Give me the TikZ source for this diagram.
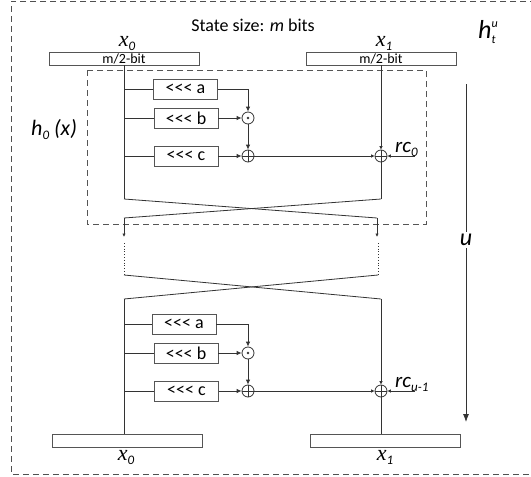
\documentclass[tikz,border=0pt]{standalone}
\usepackage{fontspec}
\setmainfont{Carlito}
\newfontfamily\xfont{Liberation Serif}
\newfontfamily\rotfont{Carlito}[Ligatures=TeXOff]
\usetikzlibrary{arrows.meta,positioning}
\definecolor{Line}{HTML}{333333}
\definecolor{Edge}{HTML}{555555}
\definecolor{Dash}{HTML}{505050}
\newcommand{\idx}[1]{\raisebox{-4pt}{\normalfont\itshape\fontsize{13}{13}\selectfont #1}}

\begin{document}
\begin{tikzpicture}[x=1pt,y=-1pt,
  wire/.style={draw=Line,line width=0.8pt},
  arrow/.style={wire,-{Latex[length=5pt,width=4.5pt]}},
  tip/.style={wire,-{Latex[length=3.5pt,width=3.5pt]}},
  reg/.style={draw=Edge,line width=0.9pt,minimum width=150pt,minimum height=13pt,inner sep=0pt,font=\fontsize{14}{14}\selectfont},
  rot/.style={draw=Edge,line width=0.9pt,minimum width=64pt,minimum height=20pt,inner sep=0pt,font=\rotfont\fontsize{18}{18}\selectfont},
  op/.style={circle,draw=Line,line width=0.8pt,minimum size=12pt,inner sep=0pt},
  xorop/.style={op,path picture={\draw[Line,line width=0.8pt] (path picture bounding box.north)--(path picture bounding box.south) (path picture bounding box.west)--(path picture bounding box.east);}},
  andop/.style={op,path picture={\fill[Line] (path picture bounding box.center) circle (1.4pt);}},
  frame/.style={draw=Dash,line width=0.9pt,dash pattern=on 6pt off 4pt},
  lbl/.style={inner sep=0pt,font=\itshape\fontsize{21}{21}\selectfont},
  var/.style={inner sep=0pt,font=\xfont\itshape\fontsize{22}{22}\selectfont}
]
\useasboundingbox (0,0) rectangle (531,477);
% outer frame, open on the right
\draw[frame] (536,1) -- (11,1) -- (11,474) -- (536,474);
\draw[frame,draw=Edge,line width=0.8pt] (87,70) rectangle (426,224);

\node[anchor=base,font=\fontsize{18}{18}\selectfont] (title) at (253,31) {State size: \textit{m} bits};
\node[anchor=base west,inner sep=0pt,font=\itshape\fontsize{26}{26}\selectfont] (hname) at (478,38)
  {h\rlap{\raisebox{11pt}{\fontsize{12}{12}\selectfont u}}\raisebox{-5pt}{\fontsize{12}{12}\selectfont t}};
\node[lbl,anchor=base west,font=\itshape\fontsize{22}{22}\selectfont] (hzero) at (31,135) {h\idx{0} (x)};

% registers
\node[reg] (xa) at (124,58.5) {m/2-bit};
\node[reg] (xb) at (381,58.5) {m/2-bit};
\node[var,anchor=base] (xalbl) at (127,46) {x\idx{0}};
\node[var,anchor=base] (xblbl) at (384,46) {x\idx{1}};
\node[reg] (ya) at (127.5,440.5) {};
\node[reg] (yb) at (385,440.5) {};
\node[var,anchor=base] (yalbl) at (126,460) {x\idx{0}};
\node[var,anchor=base] (yblbl) at (385,460) {x\idx{1}};

% first round
\node[rot] (ra) at (185.5,89) {<<< a};
\node[rot] (rb) at (186,118) {<<< b};
\node[rot] (rc) at (186,156) {<<< c};
\node[andop] (and) at (248,118) {};
\node[xorop] (xor) at (248,156) {};
\node[xorop] (key) at (381,156) {};
\coordinate (sa) at (124,89);
\coordinate (sb) at (124,118);
\coordinate (sc) at (124,156);
\coordinate (la) at (124,199);
\coordinate (lb) at (381,199);
\coordinate (ma) at (124,218);
\coordinate (mb) at (377,218);
\coordinate (rcin) at (415,156);
\node[lbl,anchor=base west] (rclbl) at (395,152) {rc\idx{0}};

\draw[wire] (xa.south) -- (la);
\draw[wire] (sa) -- (ra.west);
\draw[wire] (sb) -- (rb.west);
\draw[wire] (sc) -- (rc.west);
\draw[arrow] (ra.east) -| (and.north);
\draw[arrow] (rb.east) -- (and.west);
\draw[arrow] (and.south) -- (xor.north);
\draw[arrow] (rc.east) -- (xor.west);
\draw[tip] (xor.east) -- (key.west);
\draw[tip] (xb.south) -- (key.north);
\draw[tip] (rcin) -- (key.east);
\draw[wire] (key.south) -- (lb);
\draw[wire] (la) -- (mb);
\draw[wire] (lb) -- (ma);

% rounds in between
\coordinate (na) at (124,237);
\coordinate (nb) at (377,237);
\coordinate (da) at (124,243);
\coordinate (db) at (378,243);
\coordinate (ea) at (124,275);
\coordinate (eb) at (378,275);
\coordinate (fa) at (124,299);
\coordinate (fb) at (381,299);
\draw[tip] (ma) -- (na);
\draw[tip] (mb) -- (nb);
\draw[wire,dotted] (da) -- (ea);
\draw[wire,dotted] (db) -- (eb);
\draw[wire] (ea) -- (fb);
\draw[wire] (eb) -- (fa);

% last round
\node[rot] (rua) at (184,324) {<<< a};
\node[rot] (rub) at (186,353) {<<< b};
\node[rot] (ruc) at (186.5,391) {<<< c};
\node[andop] (uand) at (248,353) {};
\node[xorop] (uxor) at (248,391) {};
\node[xorop] (ukey) at (381,391) {};
\coordinate (tua) at (124,324);
\coordinate (tub) at (124,353);
\coordinate (tuc) at (124,391);
\coordinate (urcin) at (415,391);
\node[lbl,anchor=base west] (urclbl) at (395,387) {rc\idx{u-1}};

\draw[wire] (fa) -- (124,434);
\draw[wire] (tua) -- (rua.west);
\draw[wire] (tub) -- (rub.west);
\draw[wire] (tuc) -- (ruc.west);
\draw[arrow] (rua.east) -| (uand.north);
\draw[arrow] (rub.east) -- (uand.west);
\draw[arrow] (uand.south) -- (uxor.north);
\draw[arrow] (ruc.east) -- (uxor.west);
\draw[tip] (uxor.east) -- (ukey.west);
\draw[tip] (fb) -- (ukey.north);
\draw[tip] (urcin) -- (ukey.east);
\draw[wire] (ukey.south) -- (381,434);

% number of rounds
\coordinate (utop) at (466,84);
\coordinate (ubot) at (466,422);
\node[lbl,font=\itshape\fontsize{24}{24}\selectfont,inner sep=2pt] (ulbl) at (466,240) {u};
\draw[wire] (utop) -- (ulbl.north);
\draw[wire,-{Latex[length=8pt,width=6pt]}] (ulbl.south) -- (ubot);
\end{tikzpicture}
\end{document}
